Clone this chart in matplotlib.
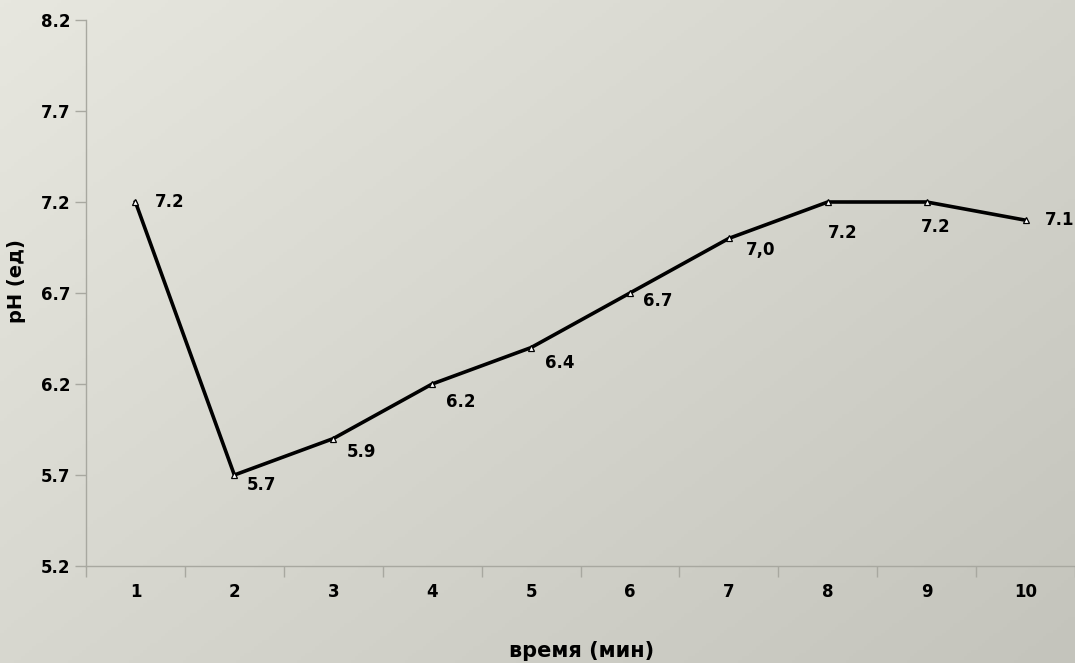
import numpy as np
import matplotlib.pyplot as plt
from matplotlib.colors import LinearSegmentedColormap

# pH over time
minutes = [1, 2, 3, 4, 5, 6, 7, 8, 9, 10]
ph = [7.2, 5.7, 5.9, 6.2, 6.4, 6.7, 7.0, 7.2, 7.2, 7.1]
point_labels = ["7.2", "5.7", "5.9", "6.2", "6.4", "6.7", "7,0", "7.2", "7.2", "7.1"]
y_ticks = [5.2, 5.7, 6.2, 6.7, 7.2, 7.7, 8.2]

# label offsets in points (dx, dy), text anchored at its left edge
label_offsets = [(14, 0), (9, -7), (10, -10), (10, -13), (10, -11),
                 (9.5, -6), (12, -8), (0, -22), (-4, -18), (14, 0)]

plt.rcParams["font.family"] = ["DejaVu Sans"]
plt.rcParams["font.weight"] = "bold"

fig = plt.figure(figsize=(10.75, 6.63), dpi=100)

# gradient background
bg = fig.add_axes([0, 0, 1, 1], zorder=-1)
yy, xx = np.mgrid[0:1:200j, 0:1:300j]
grad = 0.55 * xx + 0.45 * yy
cmap = LinearSegmentedColormap.from_list("bg", ["#e7e7df", "#c4c4bc"])
bg.imshow(grad, cmap=cmap, aspect="auto", extent=[0, 1, 0, 1], origin="upper")
bg.axis("off")

ax = fig.add_axes([86 / 1075, 1 - 566 / 663, 1 - 86 / 1075, (566 - 20) / 663])
ax.patch.set_alpha(0)

ax.plot(minutes, ph, color="black", lw=2.6, marker="^", markersize=5,
        markerfacecolor="white", markeredgecolor="black", markeredgewidth=0.9,
        clip_on=False, zorder=3)

for x, y, txt, (dx, dy) in zip(minutes, ph, point_labels, label_offsets):
    ax.annotate(txt, (x, y), xytext=(dx, dy), textcoords="offset points",
                ha="left", va="center", fontsize=12, fontweight="bold")

ax.set_xlim(0.5, 10.5)
ax.set_ylim(5.2, 8.2)
ax.set_yticks(y_ticks)
ax.set_yticklabels([f"{v:.1f}" for v in y_ticks])
ax.set_xticks(minutes)
ax.set_xticks(np.arange(0.5, 10.6, 1), minor=True)
ax.tick_params(axis="x", which="major", length=0, pad=12, labelsize=12)
ax.tick_params(axis="x", which="minor", length=8, color="#a8a8a0", width=1)
ax.tick_params(axis="y", length=8, color="#a8a8a0", width=1, labelsize=12, pad=3)

for side in ["top", "right"]:
    ax.spines[side].set_visible(False)
for side in ["left", "bottom"]:
    ax.spines[side].set_color("#a8a8a0")
    ax.spines[side].set_linewidth(1)

fig.text(582 / 1075, 1 - 651 / 663, "время (мин)", ha="center", va="center",
         fontsize=15, fontweight="bold")
fig.text(16 / 1075, 1 - 281 / 663, "pH (ед)", ha="center", va="center",
         rotation=90, fontsize=14, fontweight="bold")

fig.savefig("out.png", dpi=100)
